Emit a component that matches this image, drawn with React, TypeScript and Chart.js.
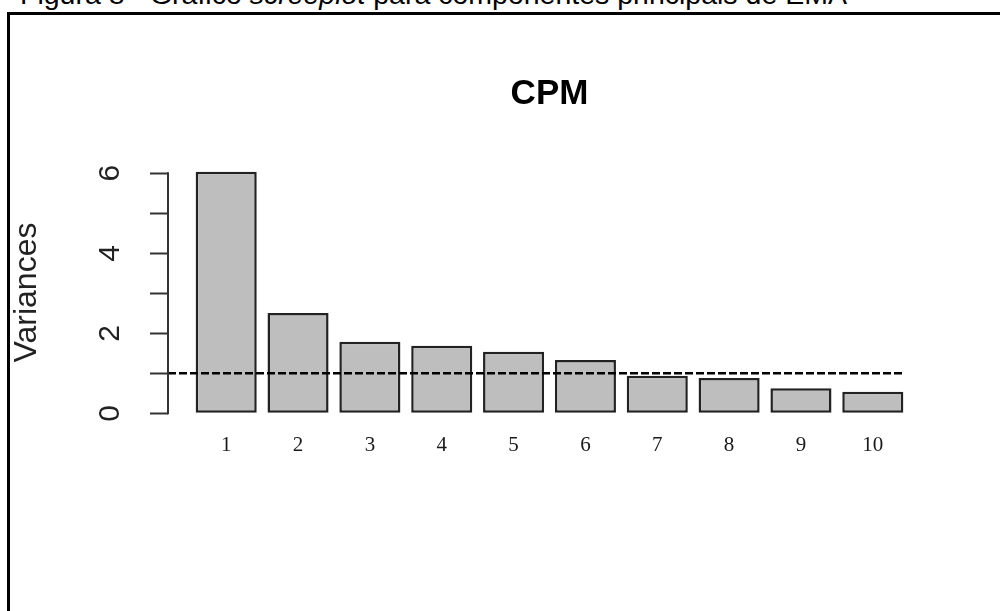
import React, { useEffect, useRef } from "react";
import { Chart, registerables } from "chart.js";

Chart.register(...registerables);

// Scree plot data: variance of each principal component
const components = ["1", "2", "3", "4", "5", "6", "7", "8", "9", "10"];
const variances = [6.04, 2.51, 1.79, 1.69, 1.54, 1.33, 0.94, 0.88, 0.63, 0.54];
const yTickValues = [0, 1, 2, 3, 4, 5, 6];
const yTickLabels = ["0", "", "2", "", "4", "", "6"];
const kaiserCutoff = 1;
const chartTitle = "CPM";
const yAxisTitle = "Variances";

const SANS = '"Liberation Sans", Arial, Helvetica, sans-serif';
const SERIF = '"Liberation Serif", "Times New Roman", serif';

// barplot geometry in user units (bar width 1, gap 0.2 between bars)
const BAR_WIDTH = 1;
const BAR_SPACE = 0.2;
const barCenter = (i: number) => BAR_SPACE + i * (BAR_WIDTH + BAR_SPACE) + BAR_WIDTH / 2;
const xLo = BAR_SPACE;
const xHi = components.length * (BAR_WIDTH + BAR_SPACE);
const xPad = 0.04 * (xHi - xLo);
const yTop = Math.max(...variances);
const yPad = 0.04 * yTop;

// axis line spanning only the first to the last tick
const axisLinePlugin = {
  id: "axisLine",
  afterDatasetsDraw(chart: any) {
    const ys = chart.scales.y;
    const ctx = chart.ctx;
    const x = chart.chartArea.left;
    ctx.save();
    ctx.strokeStyle = "#333";
    ctx.lineWidth = 2;
    ctx.beginPath();
    ctx.moveTo(x, ys.getPixelForValue(yTickValues[0]) + 1);
    ctx.lineTo(x, ys.getPixelForValue(yTickValues[yTickValues.length - 1]) - 1);
    ctx.stroke();
    ctx.restore();
  },
};

function ScreePlot() {
  const canvasRef = useRef<HTMLCanvasElement | null>(null);

  useEffect(() => {
    const canvas = canvasRef.current;
    if (!canvas) return;
    const chart = new Chart(canvas, {
      type: "bar",
      data: {
        datasets: [
          {
            type: "line",
            data: [
              { x: xLo - xPad, y: kaiserCutoff },
              { x: xHi, y: kaiserCutoff },
            ],
            borderColor: "#000",
            borderWidth: 2.6,
            borderDash: [8, 3],
            pointRadius: 0,
            fill: false,
            clip: false,
            order: 0,
          } as any,
          {
            type: "bar",
            data: components.map((_, i) => ({ x: barCenter(i), y: variances[i] })),
            backgroundColor: "#bebebe",
            borderColor: "#222",
            borderWidth: 2.5,
            borderSkipped: false,
            barPercentage: 0.85,
            categoryPercentage: 1,
            order: 1,
          } as any,
        ],
      },
      options: {
        animation: false,
        responsive: false,
        devicePixelRatio: 1,
        layout: { padding: { left: 0, right: 69, top: 0, bottom: 88 } },
        plugins: {
          legend: { display: false },
          tooltip: { enabled: false },
          title: {
            display: true,
            text: chartTitle,
            fullSize: false,
            color: "#000",
            font: { family: SANS, size: 35, weight: "bold" },
            padding: { top: 73, bottom: 47 },
          },
        },
        scales: {
          x: {
            type: "linear",
            offset: false,
            min: xLo - xPad,
            max: xHi + xPad,
            grid: { display: false, drawTicks: false },
            border: { display: false },
            afterBuildTicks: (s: any) => {
              s.ticks = components.map((_, i) => ({ value: barCenter(i) }));
            },
            afterFit: (s: any) => {
              s.height = 100;
            },
            ticks: {
              autoSkip: false,
              minRotation: 0,
              maxRotation: 0,
              padding: 10,
              color: "#1a1a1a",
              font: { family: SERIF, size: 21 },
              callback: (_v: any, i: number) => components[i],
            },
          },
          y: {
            type: "linear",
            min: -yPad,
            max: yTop + yPad,
            afterBuildTicks: (s: any) => {
              s.ticks = yTickValues.map((v) => ({ value: v }));
            },
            afterFit: (s: any) => {
              s.width = 168;
            },
            grid: {
              display: true,
              drawOnChartArea: false,
              drawTicks: true,
              tickLength: 18,
              tickWidth: 2,
              tickColor: "#333",
            },
            border: { display: false },
            ticks: {
              minRotation: 90,
              maxRotation: 90,
              crossAlign: "center",
              padding: 31,
              color: "#222",
              font: { family: SANS, size: 30 },
              callback: (_v: any, i: number) => yTickLabels[i],
            },
            title: {
              display: true,
              text: yAxisTitle,
              color: "#222",
              font: { family: SANS, size: 32 },
              padding: { top: 7.5, bottom: 0 },
            },
          },
        },
      } as any,
      plugins: [axisLinePlugin],
    });
    return () => chart.destroy();
  }, []);

  return <canvas ref={canvasRef} width={1000} height={611} style={{ position: "absolute", left: 0, top: 0 }} />;
}

export default function App() {
  return (
    <div
      style={{
        position: "fixed",
        left: 0,
        top: 0,
        width: 1000,
        height: 611,
        overflow: "hidden",
        background: "#fff",
      }}
    >
      <div
        style={{
          position: "absolute",
          left: 20,
          top: -20,
          font: `28.5px ${SANS}`,
          lineHeight: "28px",
          whiteSpace: "nowrap",
          color: "#000",
        }}
      >
        Figura 8 - Gráfico <i>screeplot</i> para componentes principais de EMA
      </div>
      <div
        style={{
          position: "absolute",
          left: 7,
          top: 12,
          width: 2000,
          height: 2000,
          border: "3px solid #000",
        }}
      />
      <ScreePlot />
    </div>
  );
}
